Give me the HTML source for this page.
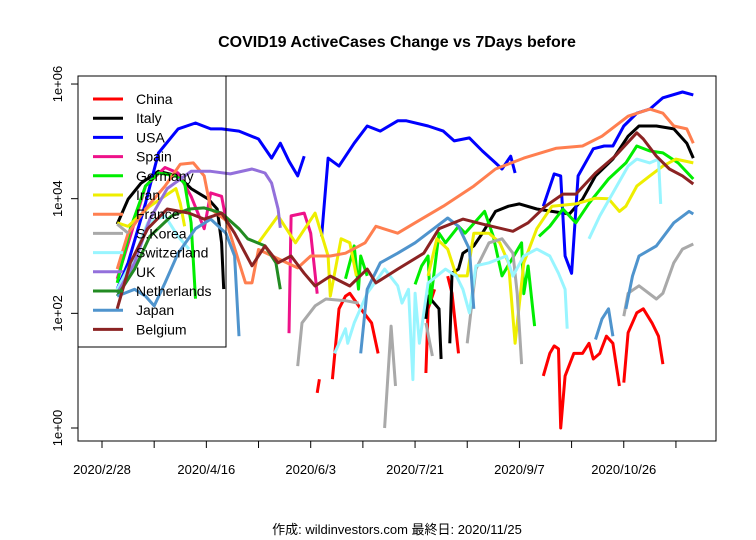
<!DOCTYPE html>
<html><head><meta charset="utf-8"><style>
html,body{margin:0;padding:0;background:#fff;}
svg{display:block;font-family:"Liberation Sans","Noto Sans CJK JP",sans-serif;}
</style></head><body>
<svg id="chart" width="756" height="540" viewBox="0 0 756 540">
<rect x="0" y="0" width="756" height="540" fill="#fff"/>
<text x="397" y="47" text-anchor="middle" font-size="16" font-weight="bold">COVID19 ActiveCases Change vs 7Days before</text>
<g id="series"></g>
<rect x="78" y="76" width="638" height="365" fill="none" stroke="#000" stroke-width="1"/>
<g id="yaxis"></g>
<g id="xaxis"></g>
<g id="legend"></g>
<text x="397" y="534" text-anchor="middle" font-size="13">作成: wildinvestors.com 最終日: 2020/11/25</text>
</svg>
<script>
const yTicks=[1,100,10000,1000000];
const yTickLabels=["1e+00","1e+02","1e+04","1e+06"];
const xTickDays=[0,24,48,72,96,120,144,168,192,216,240,264];
const xTickLabels=["2020/2/28","","2020/4/16","","2020/6/3","","2020/7/21","","2020/9/7","","2020/10/26",""];
const seriesNames=["China","Italy","USA","Spain","Germany","Iran","France","S.Korea","Switzerland","UK","Netherlands","Japan","Belgium"];
const seriesColors=["#FF0000","#000000","#0000FF","#EE1289","#00EE00","#EEEE00","#FF7F50","#A9A9A9","#98F5FF","#9370DB","#228B22","#4F94CD","#8B2323"];

const chinaDays=[99,100,null,106,109,112,114,119,124,127,null,149,150,153,null,159,161,164,null,203,206,208,210,211,213,217,221,224,226,229,232,235,238,null,240,242,246,249,253,256,258];
const chinaVals=[4.1,7.1,null,7.1,120,200,224,120,68,20,null,9.1,120,263,null,447,224,20,null,8.1,20,27,24,1,8.1,20,20,30,16,20,40,30,5.4,null,6.2,46,102,120,68,40,13];
const italyDays=[7,12,18,26,35,41,49,53,55,56,null,149,150,155,156,null,160,161,164,166,171,175,181,187,192,200,207,215,221,227,235,242,247,255,263,269,272];
const italyVals=[3600,9800,18700,30000,25000,15000,9800,6600,1700,265,null,80,200,120,16,null,30,500,590,1120,1500,2500,6000,7400,8100,6600,6000,5400,9800,25000,49000,123000,185000,185000,165000,93000,51000];
const usaDays=[7,12,20,26,35,43,50,55,63,72,78,82,86,90,93,null,101,104,109,116,122,128,136,140,150,157,162,169,175,181,184,188,190,null,203,208,211,213,216,219,226,231,235,240,246,252,258,267,272];
const usaVals=[265,760,8300,63000,165000,209000,165000,165000,151000,110000,51000,93000,45000,25000,55000,null,2200,51000,37000,93000,185000,151000,228000,228000,185000,151000,102000,115000,68000,42000,33000,55000,28000,null,7400,27000,25000,1000,500,25000,74000,83000,83000,185000,310000,365000,575000,725000,645000];
const spainDays=[7,13,20,29,35,41,47,50,55,57,null,86,87,93,96,99];
const spainVals=[400,2200,16600,35000,28000,11000,3000,12600,11000,4400,null,45,5000,5600,2500,220];
const germanyDays=[7,13,20,26,34,38,41,43,null,112,116,118,119,122,null,144,147,150,151,155,158,164,167,176,180,184,193,194,196,199,null,201,206,212,218,224,233,241,246,252,258,265,272];
const germanyVals=[340,3000,16600,28000,25000,18700,3800,180,null,400,1500,265,1000,450,null,320,670,1000,150,2500,1700,3300,2500,6000,2200,450,1700,220,670,60,null,2200,3300,6600,3800,8300,22000,42000,83000,68000,63000,42000,22000];
const iranDays=[7,12,22,34,36,38,null,72,81,89,98,104,105,110,114,117,null,150,154,159,163,168,171,178,183,187,190,194,200,207,218,227,233,238,241,246,252,258,264,272];
const iranVals=[3800,3300,7400,15000,8300,3300,null,1700,5000,1700,5600,1000,200,2000,1700,450,null,450,2000,1320,450,450,2500,2500,1700,760,30,760,3000,7400,8100,10200,10000,6000,7400,16600,25000,37000,49000,42000];
const franceDays=[7,12,20,29,36,42,47,50,57,66,69,72,90,96,105,112,121,126,136,144,157,171,181,194,209,221,230,242,252,258,263,269,272];
const franceVals=[590,2500,6600,16600,40000,42000,25000,6600,4200,340,340,1300,620,1000,1000,1120,1700,3300,2500,3800,7400,16600,33000,51000,76000,83000,123000,275000,365000,310000,185000,165000,93000];
const koreaDays=[7,12,null,90,92,98,103,112,118,null,130,133,135,null,149,152,null,168,172,178,184,189,191,193,null,240,242,247,255,258,263,267,272];
const koreaVals=[3600,2500,null,12,68,135,178,166,151,null,1,60,5.4,null,68,18,null,30,590,1700,2000,1120,224,13,null,89,224,302,178,224,760,1320,1620];
const swissDays=[7,15,21,29,35,40,null,107,112,113,116,122,130,136,138,141,143,144,146,150,154,158,163,166,169,172,178,186,189,194,200,206,210,213,214,null,224,229,235,242,246,252,256,257];
const swissVals=[263,1000,3800,5000,2200,1320,null,20,54,30,68,224,590,302,151,263,7,224,30,339,447,590,447,263,102,676,760,1000,447,1000,1320,1000,500,263,54,null,2000,5000,12600,37000,49000,42000,49000,8100];
const ukDays=[7,15,22,30,41,50,59,69,75,78,81,82];
const ukVals=[224,760,4400,15000,30000,30000,27000,33000,28000,18700,6600,3100];
const nlDays=[7,15,22,32,40,47,55,63,67,75,80,82];
const nlVals=[200,590,2200,5000,6600,6900,5600,3000,2000,1500,760,263];
const japanDays=[7,15,20,24,29,35,43,50,57,61,63,null,119,122,128,136,144,154,159,164,169,171,null,227,230,233,235,null,241,244,247,255,263,270,272];
const japanVals=[200,263,200,135,340,1120,3000,4400,2500,1000,40,null,20,263,760,1120,1700,3300,4600,3300,1320,120,null,35,80,120,40,null,120,447,1000,1500,3800,6000,5400];
const belgiumDays=[7,13,21,30,40,47,55,61,69,75,81,87,93,98,105,114,122,126,136,148,155,166,175,189,196,204,212,218,227,236,246,249,255,261,267,272];
const belgiumVals=[120,760,3000,6600,5600,4400,5600,2500,676,1500,760,1000,500,300,447,300,590,340,590,1120,3000,4400,3600,2700,3800,7400,12000,12000,28000,55000,141000,110000,55000,33000,25000,18000];

const allDays=[chinaDays,italyDays,usaDays,spainDays,germanyDays,iranDays,franceDays,koreaDays,swissDays,ukDays,nlDays,japanDays,belgiumDays];
const allVals=[chinaVals,italyVals,usaVals,spainVals,germanyVals,iranVals,franceVals,koreaVals,swissVals,ukVals,nlVals,japanVals,belgiumVals];

const NS="http://www.w3.org/2000/svg";
function xScale(d){return 102+d*2.174;}
function yScale(v){return 428-Math.log10(v)*57.33;}

const seriesG=document.getElementById('series');
for(let s=0;s<allDays.length;s++){
  const days=allDays[s], vals=allVals[s];
  let dstr="", pen=false;
  for(let i=0;i<days.length;i++){
    if(days[i]===null||vals[i]===null){pen=false;continue;}
    dstr+=(pen?"L":"M")+xScale(days[i]).toFixed(1)+","+yScale(vals[i]).toFixed(1);
    pen=true;
  }
  const p=document.createElementNS(NS,'path');
  p.setAttribute('d',dstr);
  p.setAttribute('fill','none');
  p.setAttribute('stroke',seriesColors[s]);
  p.setAttribute('stroke-width','3');
  p.setAttribute('stroke-linejoin','round');
  
  
  seriesG.appendChild(p);
}

const yG=document.getElementById('yaxis');
const yl=document.createElementNS(NS,'line');
yl.setAttribute('x1',78);yl.setAttribute('x2',78);yl.setAttribute('y1',yScale(yTicks[0]));yl.setAttribute('y2',yScale(yTicks[yTicks.length-1]));yl.setAttribute('stroke','#000');


yG.appendChild(yl);
for(let i=0;i<yTicks.length;i++){
  const y=yScale(yTicks[i]);
  const t=document.createElementNS(NS,'line');
  t.setAttribute('x1',71);t.setAttribute('x2',78);t.setAttribute('y1',y);t.setAttribute('y2',y);t.setAttribute('stroke','#000');
  
  
  yG.appendChild(t);
  const tx=document.createElementNS(NS,'text');
  tx.setAttribute('x',62);tx.setAttribute('y',y);tx.setAttribute('font-size','13');tx.setAttribute('text-anchor','middle');
  tx.setAttribute('transform','rotate(-90 62 '+y+')');
  tx.textContent=yTickLabels[i];
  
  
  yG.appendChild(tx);
}

const xG=document.getElementById('xaxis');
const xl=document.createElementNS(NS,'line');
xl.setAttribute('x1',xScale(xTickDays[0]));xl.setAttribute('x2',xScale(xTickDays[xTickDays.length-1]));xl.setAttribute('y1',441);xl.setAttribute('y2',441);xl.setAttribute('stroke','#000');


xG.appendChild(xl);
for(let i=0;i<xTickDays.length;i++){
  const x=xScale(xTickDays[i]);
  const t=document.createElementNS(NS,'line');
  t.setAttribute('x1',x);t.setAttribute('x2',x);t.setAttribute('y1',441);t.setAttribute('y2',448);t.setAttribute('stroke','#000');
  
  
  xG.appendChild(t);
  if(xTickLabels[i]){
    const tx=document.createElementNS(NS,'text');
    tx.setAttribute('x',x);tx.setAttribute('y',474);tx.setAttribute('font-size','13');tx.setAttribute('text-anchor','middle');
    tx.textContent=xTickLabels[i];
    
    
    xG.appendChild(tx);
  }
}

const lg=document.getElementById('legend');
const box=document.createElementNS(NS,'rect');
box.setAttribute('x',78);box.setAttribute('y',76);box.setAttribute('width',148);box.setAttribute('height',271);
box.setAttribute('fill','none');box.setAttribute('stroke','#000');


lg.appendChild(box);
for(let i=0;i<seriesNames.length;i++){
  const y=99+i*19.2;
  const ln=document.createElementNS(NS,'line');
  ln.setAttribute('x1',93);ln.setAttribute('x2',123);ln.setAttribute('y1',y);ln.setAttribute('y2',y);
  ln.setAttribute('stroke',seriesColors[i]);ln.setAttribute('stroke-width','3');
  
  
  lg.appendChild(ln);
  const tx=document.createElementNS(NS,'text');
  tx.setAttribute('x',136);tx.setAttribute('y',y+5);tx.setAttribute('font-size','14');
  tx.textContent=seriesNames[i];
  
  
  lg.appendChild(tx);
}
</script>
</body></html>
